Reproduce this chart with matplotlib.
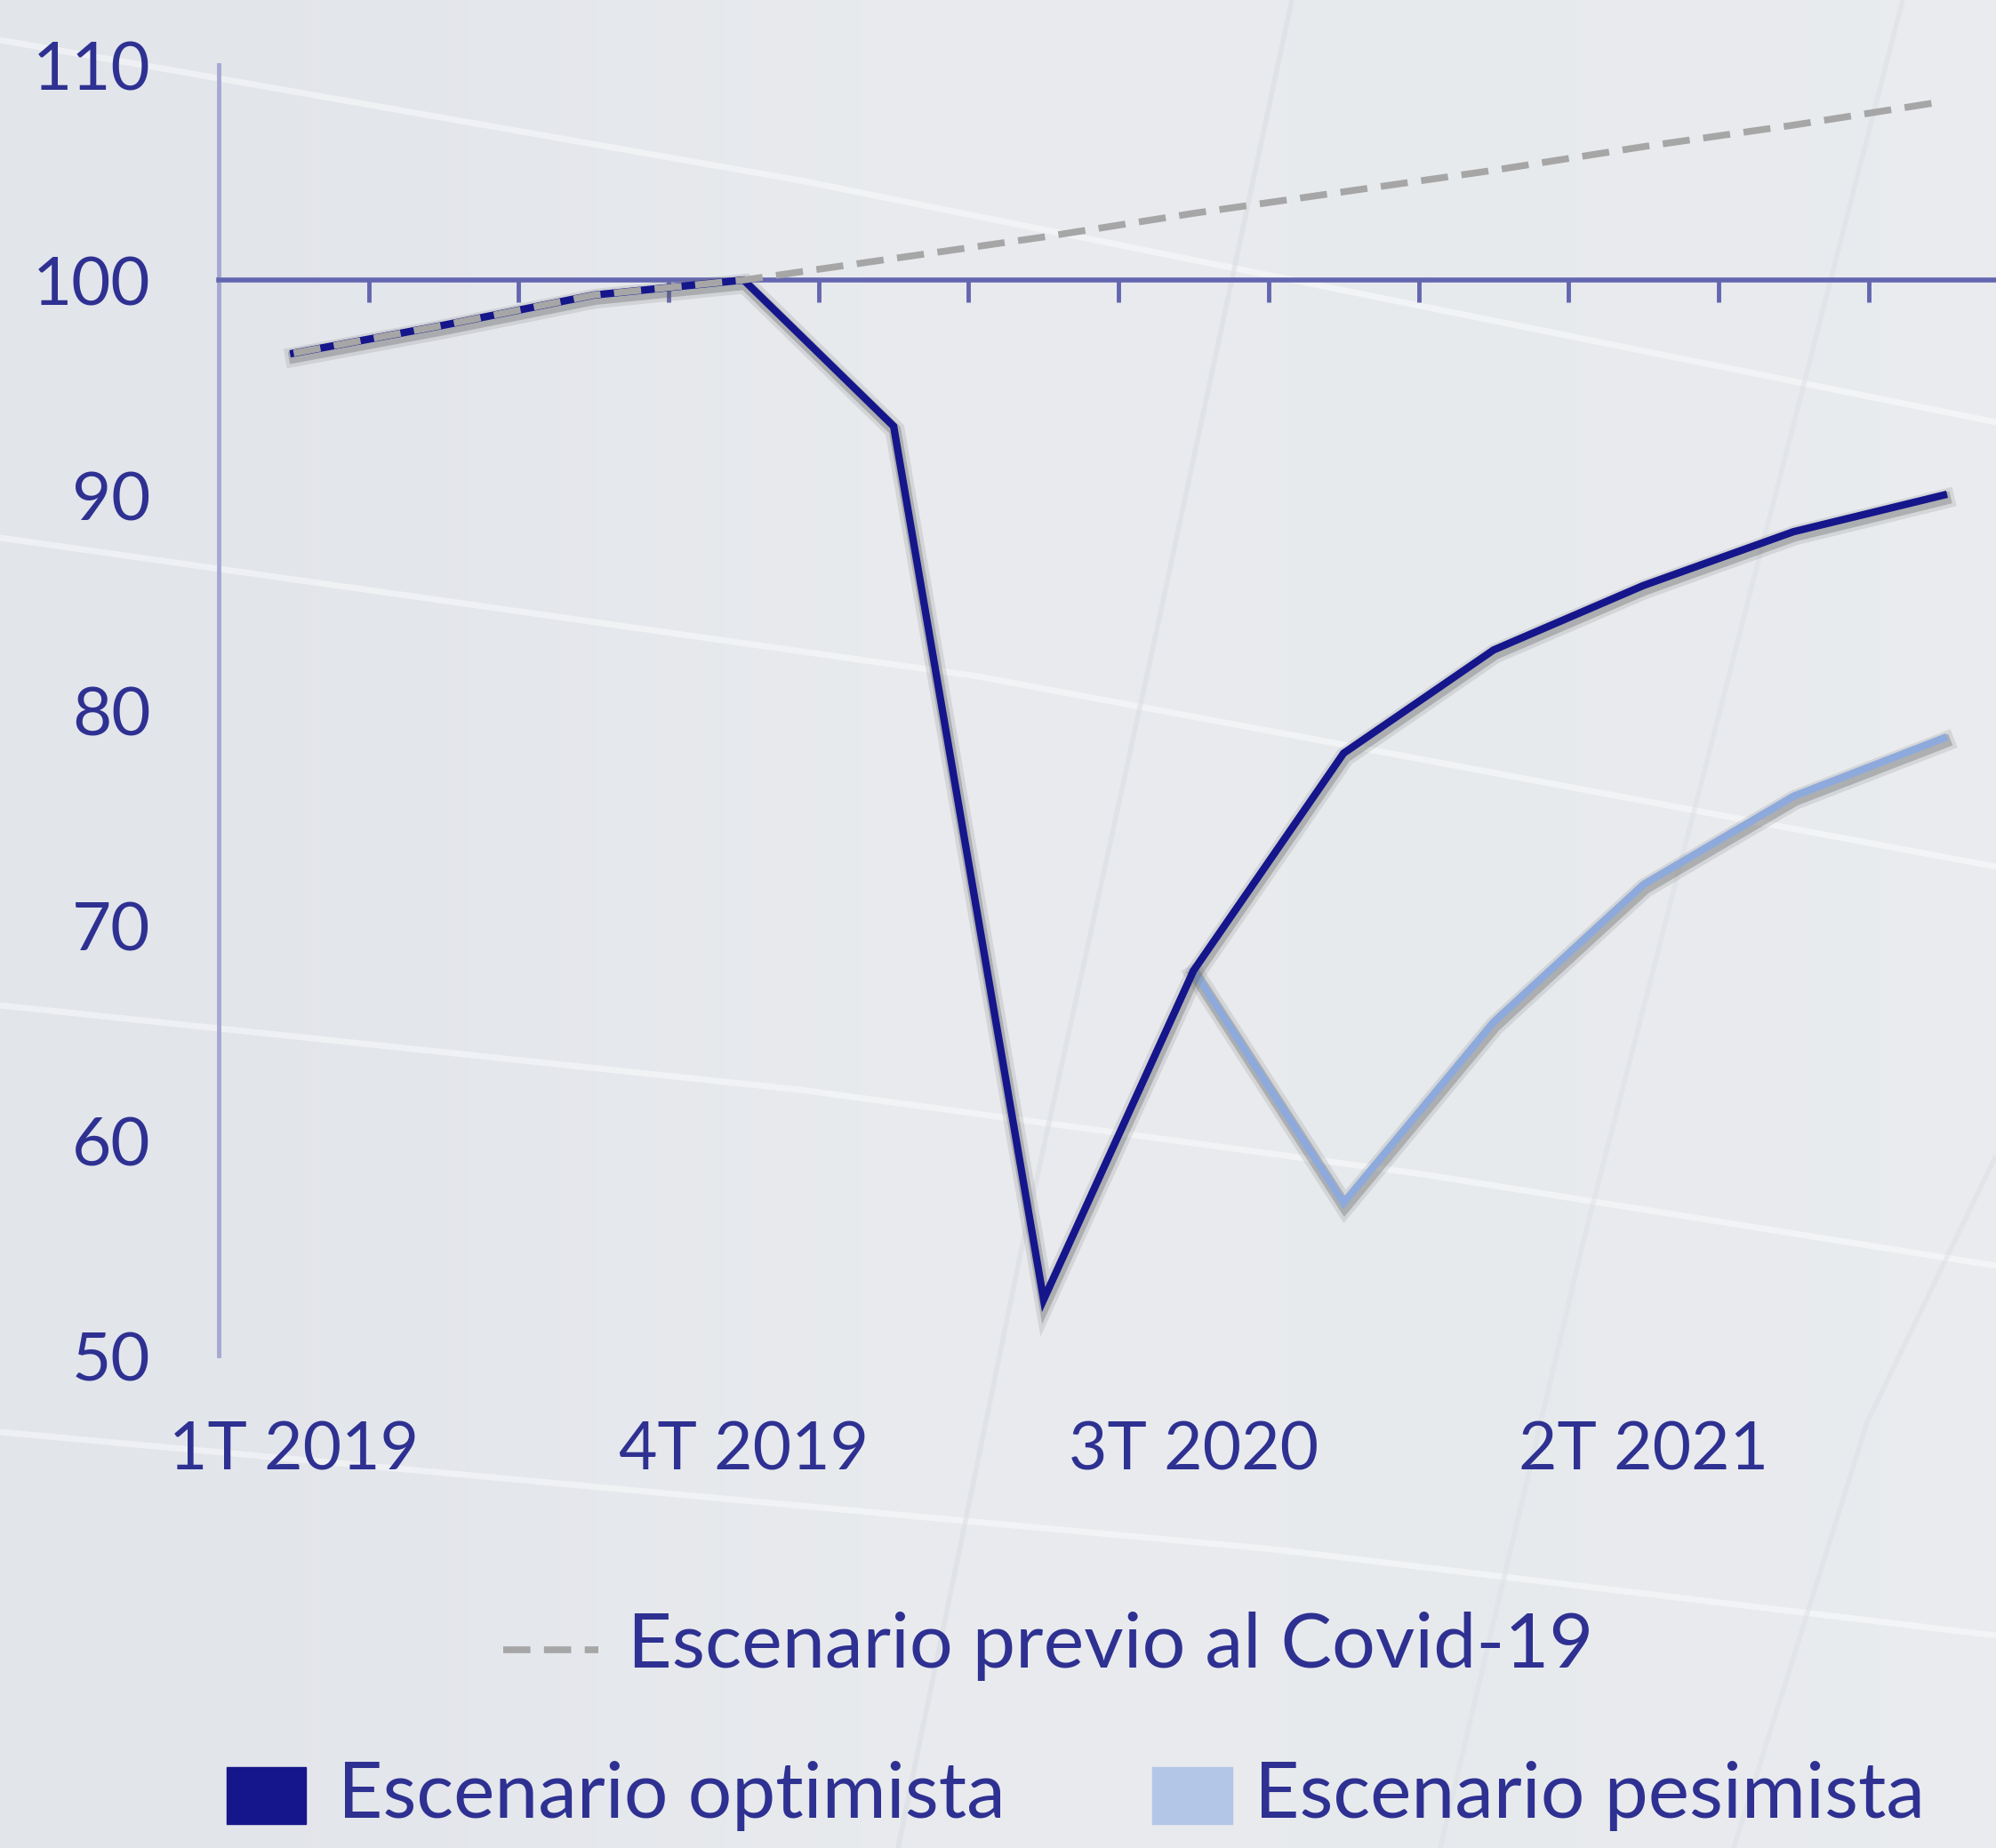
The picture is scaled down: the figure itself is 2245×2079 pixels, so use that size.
import matplotlib
matplotlib.use("Agg")
import matplotlib.pyplot as plt
import matplotlib.patheffects as pe
from matplotlib.lines import Line2D
from matplotlib.patches import Rectangle

plt.rcParams['font.family'] = ['Lato', 'DejaVu Sans']

# ---- data ----
quarters = ['1T 2019', '2T 2019', '3T 2019', '4T 2019',
            '1T 2020', '2T 2020', '3T 2020', '4T 2020',
            '1T 2021', '2T 2021', '3T 2021', '4T 2021']
shown_labels = ['1T 2019', '4T 2019', '3T 2020', '2T 2021']
optimista = [96.6, 97.9, 99.3, 100.0, 93.2, 52.6, 67.9, 78.0, 82.8, 85.8, 88.3, 90.0]
pesimista_q = ['3T 2020', '4T 2020', '1T 2021', '2T 2021', '3T 2021', '4T 2021']
pesimista = [67.9, 57.1, 65.5, 71.9, 76.0, 78.7]
previo_q = quarters
previo = [96.6, 97.9, 99.3, 100.0, 101.0, 102.0, 103.1, 104.1, 105.1, 106.2, 107.2, 108.3]
yticks = [50, 60, 70, 80, 90, 100, 110]

# ---- style ----
W, H = 2245, 2079
BG = '#e7e9ed'
NAVY = '#15168b'
LIGHT = '#8eaadc'
LIGHT_SQ = '#b4c6e8'
GRAY = '#a6a6a6'
TXT = '#2e3191'

fig = plt.figure(figsize=(W / 100, H / 100), dpi=100, facecolor=BG)

# subtle background gradient
bg_ax = fig.add_axes([0, 0, 1, 1], zorder=-10)
bg_ax.imshow([[0.0, 0.4, 1.0, 0.6, 0.9]], cmap=matplotlib.colors.LinearSegmentedColormap.from_list(
    'bg', ['#e2e5ea', '#eaecef']), aspect='auto', extent=[0, 1, 0, 1], interpolation='bicubic')
bg_ax.set_axis_off()

# decorative background lines
def fline(pts, color='white', lw=5, alpha=0.45):
    xs = [p[0] / W for p in pts]
    ys = [1 - p[1] / H for p in pts]
    fig.add_artist(Line2D(xs, ys, color=color, lw=lw, alpha=alpha, zorder=0,
                          solid_capstyle='butt'))

fline([(0, 45), (900, 203), (2245, 475)])
fline([(0, 605), (1100, 761), (2245, 975)])
fline([(0, 1131), (900, 1226), (1600, 1321), (2245, 1424)])
fline([(0, 1611), (1433, 1743), (2245, 1840)])
fline([(1453, 0), (1303, 700), (1150, 1400), (1010, 2079)], color='#d8dbe1', lw=4, alpha=0.5)
fline([(2140, 0), (1960, 700), (1780, 1400), (1620, 2079)], color='#d8dbe1', lw=4, alpha=0.4)
fline([(2245, 1300), (2100, 1600), (1950, 2079)], color='#d8dbe1', lw=4, alpha=0.4)

left_px, right_px, top_px, bot_px = 246, 2245, 73, 1525
ax = fig.add_axes([left_px / W, 1 - bot_px / H, (right_px - left_px) / W, (bot_px - top_px) / H])
ax.set_facecolor('none')

x = list(range(len(quarters)))
xp = [quarters.index(q) for q in pesimista_q]
xv = [quarters.index(q) for q in previo_q]

def shadow():
    return [pe.SimpleLineShadow(offset=(1, -3), shadow_color='#777777', alpha=0.18, linewidth=16),
            pe.SimpleLineShadow(offset=(1, -3), shadow_color='#555555', alpha=0.3, linewidth=10),
            pe.Normal()]

ax.plot(xp, pesimista, color=LIGHT, lw=6, solid_joinstyle='miter', path_effects=shadow(), zorder=3)
ax.plot(x, optimista, color=NAVY, lw=6, solid_joinstyle='miter', path_effects=shadow(), zorder=4)
ax.plot(xv, previo, color=GRAY, lw=5.5, dashes=(4.0, 2.0), zorder=5)

ax.set_xlim(-0.5, 11.35)
ax.set_ylim(50, 110)

for s in ['top', 'right']:
    ax.spines[s].set_visible(False)
ax.spines['left'].set_color('#a6a8d2')
ax.spines['left'].set_linewidth(3.5)
ax.spines['bottom'].set_position(('data', 100))
ax.spines['bottom'].set_color('#6466b0')
ax.spines['bottom'].set_linewidth(4)

ax.set_xticks([i + 0.5 for i in range(len(quarters) - 1)])
ax.set_xticklabels([])
ax.tick_params(axis='x', direction='out', length=18, width=3.5, color='#6466b0')
ax.set_yticks(yticks)
ax.set_yticklabels([str(v) for v in yticks])
ax.tick_params(axis='y', length=0, pad=55, labelsize=55, labelcolor=TXT)

for lab in shown_labels:
    ax.text(quarters.index(lab), -0.074, lab, transform=ax.get_xaxis_transform(),
            ha='center', va='center', fontsize=54, color=TXT)

# legend
def fy(py):
    return 1 - py / H

fig.add_artist(Line2D([566 / W, 673 / W], [fy(1856), fy(1856)], color=GRAY, lw=5.5, dashes=(4.0, 2.0)))
fig.text(706 / W, fy(1876), 'Escenario previo al Covid-19', fontsize=62, color=TXT, va='baseline', ha='left')

fig.add_artist(Rectangle((255 / W, fy(2052)), 89 / W, 64 / H, transform=fig.transFigure, color=NAVY))
fig.text(380 / W, fy(2045), 'Escenario optimista', fontsize=63, color=TXT, va='baseline', ha='left')
fig.add_artist(Rectangle((1296 / W, fy(2052)), 90 / W, 64 / H, transform=fig.transFigure, color=LIGHT_SQ))
fig.text(1411 / W, fy(2045), 'Escenario pesimista', fontsize=63, color=TXT, va='baseline', ha='left')

fig.savefig('out.png', dpi=100, facecolor=BG)
